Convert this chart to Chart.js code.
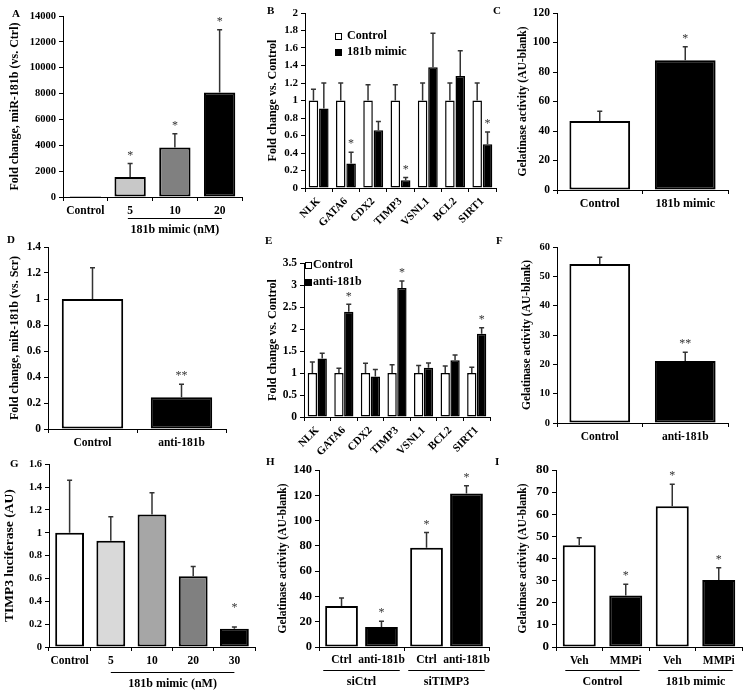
<!DOCTYPE html>
<html>
<head>
<meta charset="utf-8">
<script src="https://cdn.jsdelivr.net/npm/chart.js@4.4.1/dist/chart.umd.min.js"></script>
<style>
  html, body { margin: 0; padding: 0; background: #fff; }
  #fig { position: relative; width: 751px; height: 698px; overflow: hidden; }
  .panel { position: absolute; }
  .letter { position: absolute; font: bold 11px 'Liberation Serif', serif; line-height: 11px; color: #000; }
</style>
</head>
<body>
<div id="fig"></div>
<script>
// A - miR-181b level after mimic (nM)
const aLabels = ['Control', '5', '10', '20'];
const aValues = [1, 1540, 3830, 8080];
const aErrors = [0, 1060, 1070, 4850];
const aStars = ['', '*', '*', '*'];

// B / E - target genes
const geneLabels = ['NLK', 'GATA6', 'CDX2', 'TIMP3', 'VSNL1', 'BCL2', 'SIRT1'];
const bControl = [1, 1, 1, 1, 1, 1, 1];
const bControlErr = [0.13, 0.2, 0.18, 0.18, 0.2, 0.2, 0.2];
const bMimic = [0.91, 0.28, 0.66, 0.09, 1.38, 1.28, 0.5];
const bMimicErr = [0.29, 0.13, 0.1, 0.03, 0.39, 0.29, 0.14];
const bMimicStars = ['', '*', '', '*', '', '', '*'];

// C - gelatinase, mimic
const cLabels = ['Control', '181b mimic'];
const cValues = [46.8, 88];
const cErrors = [6.6, 9.2];
const cStars = ['', '*'];

// D - miR-181b after inhibitor
const dLabels = ['Control', 'anti-181b'];
const dValues = [1, 0.245];
const dErrors = [0.24, 0.1];
const dStars = ['', '**'];

const eControl = [1, 1, 1, 1, 1, 1, 1];
const eControlErr = [0.25, 0.11, 0.22, 0.19, 0.17, 0.16, 0.13];
const eAnti = [1.33, 2.39, 0.92, 2.93, 1.12, 1.29, 1.89];
const eAntiErr = [0.12, 0.17, 0.16, 0.16, 0.11, 0.12, 0.14];
const eAntiStars = ['', '*', '', '*', '', '', '*'];

// F - gelatinase, inhibitor
const fLabels = ['Control', 'anti-181b'];
const fValues = [54.2, 21.1];
const fErrors = [2.3, 3.0];
const fStars = ['', '**'];

// G - TIMP3 luciferase
const gLabels = ['Control', '5', '10', '20', '30'];
const gValues = [1, 0.93, 1.16, 0.62, 0.16];
const gErrors = [0.46, 0.21, 0.19, 0.085, 0.015];
const gStars = ['', '', '', '', '*'];

// H - siRNA
const hGroups = ['siCtrl', 'siTIMP3'];
const hCtrl = [32.5, 78.5];
const hCtrlErr = [6.3, 12];
const hCtrlStars = ['', '*'];
const hAnti = [15.8, 121.5];
const hAntiErr = [4.5, 6];
const hAntiStars = ['*', '*'];

// I - MMP inhibitor
const iLabels = ['Veh', 'MMPi', 'Veh', 'MMPi'];
const iValues = [46, 23.3, 63.6, 30.3];
const iErrors = [3.4, 5.1, 10, 5.5];
const iStars = ['', '*', '*', '*'];

const FONT = "'Liberation Serif', 'Times New Roman', serif";
const fig = document.getElementById('fig');

function addCanvas(box) {
    const div = document.createElement('div');
    div.className = 'panel';
    div.style.left = box[0] + 'px';
    div.style.top = box[1] + 'px';
    div.style.width = box[2] + 'px';
    div.style.height = box[3] + 'px';
    const c = document.createElement('canvas');
    div.appendChild(c);
    fig.appendChild(div);
    return c;
}

function addLetter(ch, x, y) {
    const d = document.createElement('div');
    d.className = 'letter';
    d.style.left = x + 'px';
    d.style.top = y + 'px';
    d.textContent = ch;
    fig.appendChild(d);
}

// error bars, stars, group lines, legend
function extras(o) {
    const bx = o.box[0], by = o.box[1];
    return {
        id: 'extras' + o.letter,
        afterDatasetsDraw(chart) {
            const ctx = chart.ctx;
            const ys = chart.scales.y;
            ctx.save();
            chart.data.datasets.forEach((ds, i) => {
                chart.getDatasetMeta(i).data.forEach((bar, j) => {
                    const err = ds.errors ? ds.errors[j] : 0;
                    const top = ys.getPixelForValue(ds.data[j] + err);
                    if (err > 0) {
                        ctx.strokeStyle = '#333';
                        ctx.lineWidth = 1.5;
                        ctx.beginPath();
                        ctx.moveTo(bar.x, bar.y);
                        ctx.lineTo(bar.x, top);
                        ctx.moveTo(bar.x - 2.5, top);
                        ctx.lineTo(bar.x + 2.5, top);
                        ctx.stroke();
                    }
                    const s = ds.stars && ds.stars[j];
                    if (s) {
                        ctx.fillStyle = '#333';
                        ctx.font = '12px ' + FONT;
                        ctx.textAlign = 'center';
                        ctx.textBaseline = 'middle';
                        ctx.fillText(s, bar.x, top - (o.starLift || 8));
                    }
                    if (ds.barLabel) {
                        ctx.fillStyle = '#000';
                        ctx.font = 'bold 11.5px ' + FONT;
                        ctx.textAlign = 'center';
                        ctx.textBaseline = 'middle';
                        ctx.fillText(ds.barLabel, bar.x, o.barLabelY - by);
                    }
                });
            });
            ctx.restore();
        },
        afterDraw(chart) {
            const ctx = chart.ctx;
            const xs = chart.scales.x;
            ctx.save();
            ctx.fillStyle = '#000';
            ctx.strokeStyle = '#000';
            ctx.lineWidth = 1;
            ctx.textAlign = 'center';
            ctx.textBaseline = 'middle';
            ctx.font = 'bold 12px ' + FONT;
            const cw = xs.width / chart.data.labels.length;
            (o.groups || []).forEach(g => {
                const x1 = xs.getPixelForValue(g.from) - o.inset * cw;
                const x2 = xs.getPixelForValue(g.to) + o.inset * cw;
                ctx.beginPath();
                ctx.moveTo(x1, o.lineY - by + 0.5);
                ctx.lineTo(x2, o.lineY - by + 0.5);
                ctx.stroke();
                ctx.fillText(g.label, (x1 + x2) / 2, o.textY - by);
            });
            if (o.legend) {
                const lg = o.legend;
                ctx.textAlign = 'left';
                chart.data.datasets.forEach((ds, i) => {
                    const cy = lg.y + i * lg.dy - by;
                    ctx.fillStyle = ds.backgroundColor;
                    ctx.fillRect(lg.x - bx, cy - 3, 6, 6);
                    ctx.strokeRect(lg.x - bx + 0.5, cy - 2.5, 6, 6);
                    ctx.fillStyle = '#000';
                    ctx.fillText(ds.label, lg.textX - bx, cy);
                });
            }
            ctx.restore();
        }
    };
}

function barChart(o) {
    const [bx, by, bw, bh] = o.box;
    const [l, t, r, b] = o.plot;
    const yw = l - bx;
    const xh = by + bh - b;
    const canvas = addCanvas(o.box);
    const rot = o.rotate || 0;
    return new Chart(canvas, {
        type: 'bar',
        data: {
            labels: o.labels,
            datasets: o.datasets.map(d => Object.assign({
                borderColor: '#000',
                borderWidth: o.borderWidth || 2,
                borderSkipped: false,
                barPercentage: o.barPct,
                categoryPercentage: o.catPct
            }, d))
        },
        options: {
            responsive: true,
            maintainAspectRatio: false,
            animation: false,
            layout: { padding: { left: 0, top: t - by, right: bx + bw - r, bottom: 0 } },
            plugins: { legend: { display: false }, tooltip: { enabled: false } },
            scales: {
                x: {
                    offset: true,
                    grid: { offset: true, drawOnChartArea: false, drawTicks: true, tickLength: 4, tickColor: '#000' },
                    border: { display: true, color: '#000', width: 1 },
                    ticks: {
                        display: o.showX !== false,
                        color: '#000',
                        autoSkip: false,
                        maxRotation: rot,
                        minRotation: rot,
                        padding: 3,
                        font: { family: FONT, size: o.xSize || 11.5, weight: 'bold' }
                    },
                    afterFit: s => { s.height = xh; }
                },
                y: {
                    min: 0,
                    max: o.yMax,
                    grid: { drawOnChartArea: false, drawTicks: true, tickLength: 4, tickColor: '#000' },
                    border: { display: true, color: '#000', width: 1 },
                    ticks: {
                        stepSize: o.yStep,
                        color: '#000',
                        padding: 3,
                        font: { family: FONT, size: o.ySize || 11, weight: 'bold' },
                        callback: v => String(+v.toFixed(3))
                    },
                    title: {
                        display: true,
                        text: o.yTitle,
                        color: '#000',
                        padding: 0,
                        font: { family: FONT, size: o.titleSize || 12, weight: 'bold' }
                    },
                    afterFit: s => { s.width = yw; }
                }
            }
        },
        plugins: [extras(o)]
    });
}

// A
barChart({
    letter: 'A', box: [8, 0, 242, 240], plot: [63, 16, 242, 197],
    labels: aLabels, yMax: 14000, yStep: 2000, ySize: 10.5,
    yTitle: 'Fold change, miR-181b (vs. Ctrl)',
    barPct: 0.7, catPct: 1,
    datasets: [{ data: aValues, errors: aErrors, stars: aStars,
        backgroundColor: ['#ffffff', '#c8c8c8', '#808080', '#000000'] }],
    groups: [{ from: 1, to: 3, label: '181b mimic (nM)' }], inset: 0.05, lineY: 218, textY: 230
});

// B
barChart({
    letter: 'B', box: [266, 0, 234, 240], plot: [305, 13, 496, 188],
    labels: geneLabels, yMax: 2, yStep: 0.2, rotate: 45, xSize: 11, borderWidth: 1.5,
    yTitle: 'Fold change vs. Control',
    barPct: 0.92, catPct: 0.76,
    datasets: [
        { label: 'Control', data: bControl, errors: bControlErr, backgroundColor: '#ffffff' },
        { label: '181b mimic', data: bMimic, errors: bMimicErr, stars: bMimicStars, backgroundColor: '#000000' }
    ],
    legend: { x: 335, y: 36, dy: 16, textX: 347 }
});

// C
barChart({
    letter: 'C', box: [516, 0, 235, 240], plot: [557, 13, 728, 190],
    labels: cLabels, yMax: 120, yStep: 20, ySize: 11.5, xSize: 12, titleSize: 11.5,
    yTitle: 'Gelatinase activity (AU-blank)',
    barPct: 0.71, catPct: 1,
    datasets: [{ data: cValues, errors: cErrors, stars: cStars, backgroundColor: ['#ffffff', '#000000'] }]
});

// D
barChart({
    letter: 'D', box: [8, 230, 242, 232], plot: [48, 247, 226, 429],
    labels: dLabels, yMax: 1.4, yStep: 0.2, ySize: 11.5,
    yTitle: 'Fold change, miR-181b (vs. Scr)',
    barPct: 0.69, catPct: 1,
    datasets: [{ data: dValues, errors: dErrors, stars: dStars, backgroundColor: ['#ffffff', '#000000'] }]
});

// E
barChart({
    letter: 'E', box: [266, 230, 234, 232], plot: [304, 263, 490, 417],
    labels: geneLabels, yMax: 3.5, yStep: 0.5, ySize: 11.5, rotate: 45, xSize: 11, borderWidth: 1.5,
    yTitle: 'Fold change vs. Control',
    barPct: 0.95, catPct: 0.74,
    datasets: [
        { label: 'Control', data: eControl, errors: eControlErr, backgroundColor: '#ffffff' },
        { label: 'anti-181b', data: eAnti, errors: eAntiErr, stars: eAntiStars, backgroundColor: '#000000' }
    ],
    legend: { x: 305, y: 265, dy: 17, textX: 313 }
});

// F
barChart({
    letter: 'F', box: [520, 230, 231, 232], plot: [557, 247, 728, 423],
    labels: fLabels, yMax: 60, yStep: 10, ySize: 10.5, titleSize: 11.5,
    yTitle: 'Gelatinase activity (AU-blank)',
    barPct: 0.71, catPct: 1,
    datasets: [{ data: fValues, errors: fErrors, stars: fStars, backgroundColor: ['#ffffff', '#000000'] }]
});

// G
barChart({
    letter: 'G', box: [1, 455, 259, 243], plot: [49, 463, 255, 647],
    labels: gLabels, yMax: 1.6, yStep: 0.2, ySize: 10.5, titleSize: 13.5,
    yTitle: 'TIMP3 luciferase (AU)',
    barPct: 0.7, catPct: 1, starLift: 19,
    datasets: [{ data: gValues, errors: gErrors, stars: gStars,
        backgroundColor: ['#ffffff', '#d9d9d9', '#a6a6a6', '#808080', '#000000'] }],
    groups: [{ from: 1, to: 4, label: '181b mimic (nM)' }], inset: 0, lineY: 672, textY: 684
});

// H
barChart({
    letter: 'H', box: [276, 455, 224, 243], plot: [319, 470, 489, 647],
    labels: hGroups, yMax: 140, yStep: 20, ySize: 12.5, titleSize: 11.5, showX: false,
    yTitle: 'Gelatinase activity (AU-blank)',
    barPct: 0.82, catPct: 0.94, barLabelY: 660,
    datasets: [
        { data: hCtrl, errors: hCtrlErr, stars: hCtrlStars, barLabel: 'Ctrl', backgroundColor: '#ffffff' },
        { data: hAnti, errors: hAntiErr, stars: hAntiStars, barLabel: 'anti-181b', backgroundColor: '#000000' }
    ],
    groups: [{ from: 0, to: 0, label: 'siCtrl' }, { from: 1, to: 1, label: 'siTIMP3' }],
    inset: 0.45, lineY: 670, textY: 682
});

// I
barChart({
    letter: 'I', box: [516, 455, 235, 243], plot: [556, 470, 742, 647],
    labels: iLabels, yMax: 80, yStep: 10, ySize: 13, titleSize: 11.5,
    yTitle: 'Gelatinase activity (AU-blank)',
    barPct: 0.71, catPct: 1,
    datasets: [{ data: iValues, errors: iErrors, stars: iStars,
        backgroundColor: ['#ffffff', '#000000', '#ffffff', '#000000'] }],
    groups: [{ from: 0, to: 1, label: 'Control' }, { from: 2, to: 3, label: '181b mimic' }],
    inset: 0.3, lineY: 670, textY: 682
});

[['A', 12, 8], ['B', 267, 5], ['C', 493, 5], ['D', 7, 234], ['E', 265, 235],
 ['F', 496, 235], ['G', 10, 458], ['H', 266, 456], ['I', 495, 456]].forEach(p => addLetter(p[0], p[1], p[2]));
</script>
</body>
</html>
